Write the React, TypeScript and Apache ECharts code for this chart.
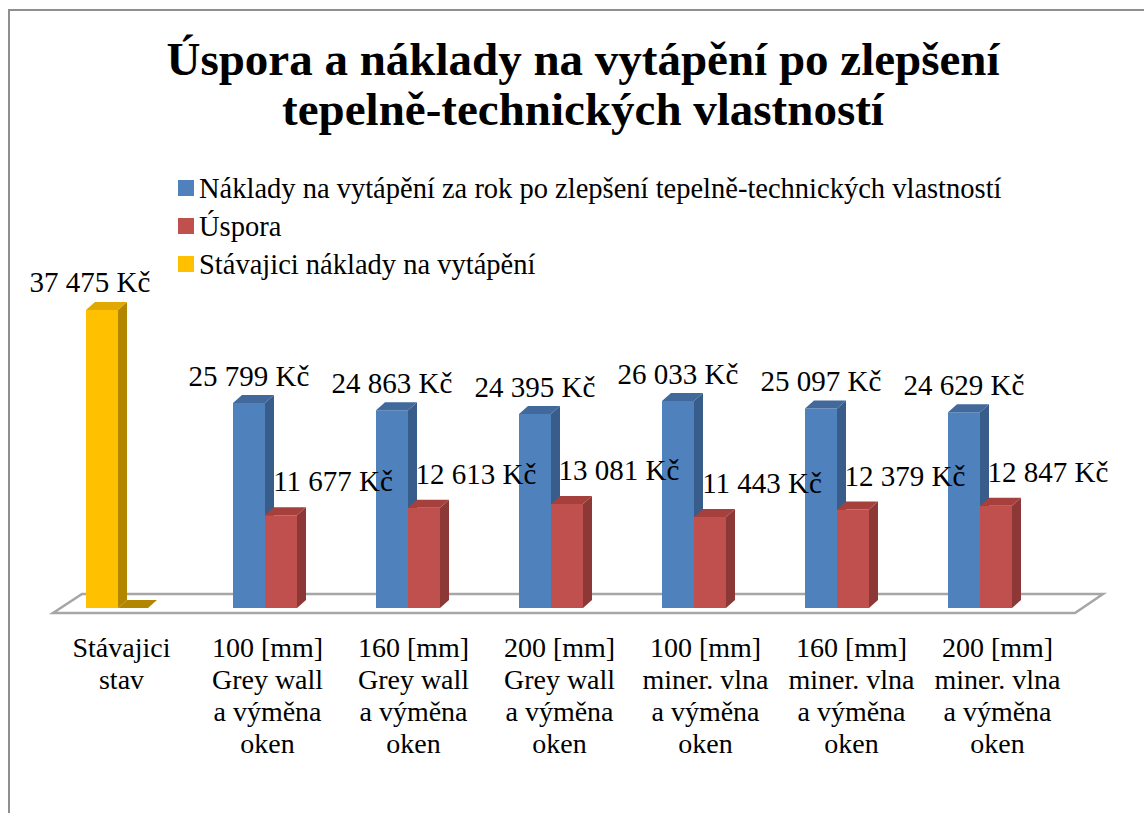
import React, { useEffect, useRef } from "react";
import * as echarts from "echarts";

const categories = [
  "Stávajici\nstav",
  "100 [mm]\nGrey wall\na výměna\noken",
  "160 [mm]\nGrey wall\na výměna\noken",
  "200 [mm]\nGrey wall\na výměna\noken",
  "100 [mm]\nminer. vlna\na výměna\noken",
  "160 [mm]\nminer. vlna\na výměna\noken",
  "200 [mm]\nminer. vlna\na výměna\noken",
];

const seriesNames = [
  "Náklady na vytápění za rok po zlepšení tepelně-technických vlastností",
  "Úspora",
  "Stávajici náklady na vytápění",
];

const naklady = [null, 25799, 24863, 24395, 26033, 25097, 24629];
const uspora = [null, 11677, 12613, 13081, 11443, 12379, 12847];
const stavajici = [37475, null, null, null, null, null, null];

const FONT = "'Liberation Serif', 'Times New Roman', serif";

function fmt(v: number): string {
  return String(Math.round(v)).replace(/\B(?=(\d{3})+(?!\d))/g, " ") + " Kč";
}

function toData(arr: (number | null)[]) {
  const out: any[] = [];
  arr.forEach((v, i) => {
    if (v !== null) out.push([i, v]);
  });
  return out;
}

function makeRender(
  offset: number,
  front: string,
  side: string,
  top: string,
  labelDx: number,
  labelDy: number,
  foot: boolean
) {
  return (params: any, api: any) => {
    const idx = api.value(0);
    const val = api.value(1);
    const base = api.coord([idx, 0]);
    const tip = api.coord([idx, val]);
    const w = 32;
    const dx = 9;
    const dy = 8;
    const x0 = base[0] + offset - w / 2;
    const x1 = x0 + w;
    const yb = base[1];
    const yt = tip[1];
    const children: any[] = [];
    if (foot) {
      children.push({
        type: "polygon",
        shape: { points: [[x1, yb], [x1 + 30, yb], [x1 + 30 + dx, yb - dy], [x1 + dx, yb - dy]] },
        style: { fill: side },
      });
    }
    children.push(
      { type: "rect", shape: { x: x0, y: yt, width: w, height: yb - yt }, style: { fill: front } },
      {
        type: "polygon",
        shape: { points: [[x1, yt], [x1 + dx, yt - dy], [x1 + dx, yb - dy], [x1, yb]] },
        style: { fill: side },
      },
      {
        type: "polygon",
        shape: { points: [[x0, yt], [x0 + dx, yt - dy], [x1 + dx, yt - dy], [x1, yt]] },
        style: { fill: top },
      },
      {
        type: "text",
        x: (x0 + x1) / 2 + labelDx,
        y: yt - labelDy,
        style: {
          text: fmt(val),
          fontFamily: FONT,
          fontSize: 29,
          fill: "#000",
          align: "center",
          verticalAlign: "middle",
        },
      }
    );
    return { type: "group", children };
  };
}

export default function App() {
  const ref = useRef<HTMLDivElement>(null);
  useEffect(() => {
    if (!ref.current) return;
    const chart = echarts.init(ref.current, null, { renderer: "svg" });
    const option: any = {
      animation: false,
      backgroundColor: "#ffffff",
      title: {
        text: "Úspora a náklady na vytápění po zlepšení\ntepelně-technických vlastností",
        left: 578,
        textAlign: "center",
        top: 29,
        textStyle: {
          fontFamily: FONT,
          fontWeight: "bold",
          fontSize: 47,
          lineHeight: 50,
          color: "#000",
        },
      },
      legend: {
        orient: "vertical",
        left: 173,
        top: 168,
        itemWidth: 16,
        itemHeight: 16,
        itemGap: 8,
        icon: "rect",
        data: seriesNames,
        textStyle: { fontFamily: FONT, fontSize: 28.5, color: "#000", lineHeight: 30 },
      },
      grid: [
        { left: 50.5, width: 1001, top: 290, bottom: 205 },
        { left: 48.5, width: 1022, top: 290, bottom: 205 },
      ],
      xAxis: [
        { type: "category", gridIndex: 0, data: categories, show: false },
        {
          type: "category",
          gridIndex: 1,
          data: categories,
          axisLine: { show: false },
          axisTick: { show: false },
          splitLine: { show: false },
          axisLabel: {
            interval: 0,
            fontFamily: FONT,
            fontSize: 28,
            lineHeight: 32,
            margin: 23,
            color: "#000",
          },
        },
      ],
      yAxis: [
        { type: "value", gridIndex: 0, min: 0, max: 40000, show: false },
        { type: "value", gridIndex: 1, min: 0, max: 40000, show: false },
      ],
      graphic: [
        {
          type: "rect",
          z: 0,
          shape: { x: 9, y: 10, width: 1200, height: 900 },
          style: { fill: "none", stroke: "#8f8f8f", lineWidth: 2 },
        },
        {
          type: "polygon",
          z: 0,
          shape: { points: [[53, 613], [1075, 613], [1103, 594], [82, 594]] },
          style: { fill: "#ffffff", stroke: "#a6a6a6", lineWidth: 2.5 },
        },
      ],
      series: [
        {
          type: "custom",
          name: seriesNames[0],
          xAxisIndex: 0,
          yAxisIndex: 0,
          itemStyle: { color: "#4F81BD" },
          renderItem: makeRender(-16, "#4F81BD", "#385D8A", "#41699B", 0, 27, false),
          data: toData(naklady),
        },
        {
          type: "custom",
          name: seriesNames[1],
          xAxisIndex: 0,
          yAxisIndex: 0,
          itemStyle: { color: "#C0504D" },
          renderItem: makeRender(16, "#C0504D", "#8C3836", "#A6403D", 52, 34, false),
          data: toData(uspora),
        },
        {
          type: "custom",
          name: seriesNames[2],
          xAxisIndex: 0,
          yAxisIndex: 0,
          itemStyle: { color: "#FFC000" },
          renderItem: makeRender(-20, "#FFC000", "#B38600", "#E0A800", -12, 28, true),
          data: toData(stavajici),
        },
      ],
    };
    chart.setOption(option);
    return () => chart.dispose();
  }, []);
  return (
    <div
      ref={ref}
      style={{ position: "absolute", left: 0, top: 0, width: 1144, height: 813, background: "#fff" }}
    />
  );
}
